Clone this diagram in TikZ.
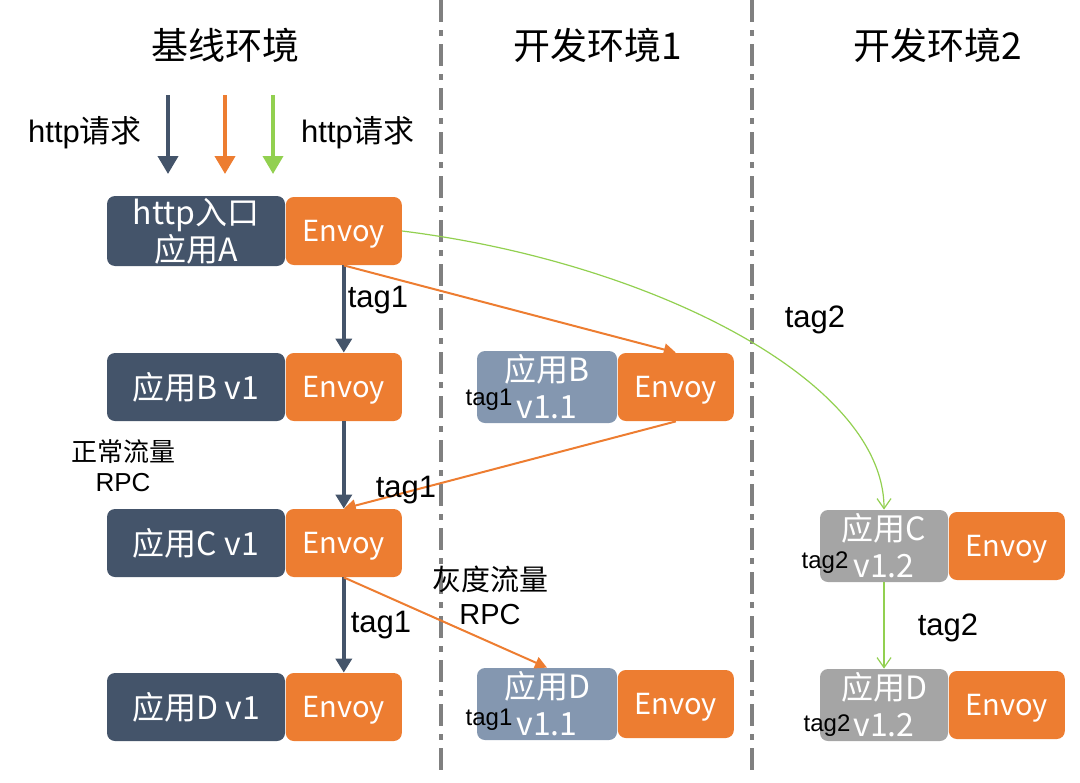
\documentclass[tikz,border=0pt]{standalone}
\usepackage{fontspec}
\setmainfont{Noto Sans CJK SC}
\newfontfamily\arial{Liberation Sans}
\usetikzlibrary{arrows.meta, positioning}
\definecolor{slate}{HTML}{44546A}
\definecolor{envoyorange}{HTML}{ED7D31}
\definecolor{greyblue}{HTML}{8497B0}
\definecolor{boxgrey}{HTML}{A5A5A5}
\definecolor{sepgrey}{HTML}{808080}
\definecolor{tagtwo}{HTML}{92D050}

\begin{document}
\begin{tikzpicture}[
    x=0.5pt, y=-0.5pt,
    app/.style={rectangle, rounded corners=4pt, fill=slate, text=white, minimum width=89pt, minimum height=34pt, align=center, inner sep=1pt, font=\fontsize{16}{18.5}\selectfont},
    devapp/.style={app, fill=greyblue, minimum width=70pt, minimum height=36pt},
    greyapp/.style={app, fill=boxgrey, minimum width=64pt, minimum height=36pt},
    envoy/.style={rectangle, rounded corners=4pt, fill=envoyorange, text=white, minimum width=58pt, minimum height=34pt, inner sep=1pt, text depth=0pt, font=\fontsize{14.5}{17}\selectfont},
    title/.style={font=\fontsize{18.5}{22}\selectfont},
    label/.style={font=\arial\fontsize{15.5}{18}\selectfont, align=center, inner sep=0pt},
    smalltag/.style={font=\arial\fontsize{12}{14}\selectfont, inner sep=0pt},
    sep/.style={draw=sepgrey, line width=2pt, dash pattern=on 11pt off 4pt on 3pt off 4pt},
    basearrow/.style={-{Triangle[length=7pt, width=8pt]}, draw=slate, line width=2pt},
    greyarrow/.style={-{Triangle[length=6pt, width=6pt]}, draw=envoyorange, line width=1pt},
    tagarrow/.style={-{Straight Barb[length=5pt, width=7pt]}, draw=tagtwo, line width=0.6pt}
]
    \useasboundingbox (0,0) rectangle (1080,782);

    \draw[sep] (441,0) -- (441,775);
    \draw[sep] (752,0) -- (752,775);

    \node[title] (t1) at (225,45) {基线环境};
    \node[title] (t2) at (598,45) {开发环境1};
    \node[title] (t3) at (938,45) {开发环境2};

    \node[label, font=\fontsize{15.5}{18}\selectfont] (req1) at (85,133) {{\arial http}请求};
    \node[label, font=\fontsize{15.5}{18}\selectfont] (req2) at (358,133) {{\arial http}请求};

    \coordinate (in1) at (168,95);  \coordinate (out1) at (168,174);
    \coordinate (in2) at (225,95);  \coordinate (out2) at (225,174);
    \coordinate (in3) at (273,95);  \coordinate (out3) at (273,174);
    \draw[basearrow, -{Triangle[length=9pt, width=10pt]}] (in1) -- (out1);
    \draw[basearrow, draw=envoyorange, -{Triangle[length=9pt, width=10pt]}] (in2) -- (out2);
    \draw[basearrow, draw=tagtwo, line width=1.8pt, -{Triangle[length=9pt, width=10pt]}] (in3) -- (out3);

    \node[app] (appA) at (196,231) {http入口\\应用A};
    \node[envoy, right=0pt of appA] (envA) {Envoy};
    \node[app] (appB) at (196,387) {应用B v1};
    \node[envoy, right=0pt of appB] (envB) {Envoy};
    \node[app] (appC) at (196,543) {应用C v1};
    \node[envoy, right=0pt of appC] (envC) {Envoy};
    \node[app] (appD) at (196,707) {应用D v1};
    \node[envoy, right=0pt of appD] (envD) {Envoy};

    \node[devapp] (devB) at (547,387) {应用B\\v1.1};
    \node[envoy, right=0pt of devB] (devenvB) {Envoy};
    \node[devapp] (devD) at (547,704) {应用D\\v1.1};
    \node[envoy, right=0pt of devD] (devenvD) {Envoy};

    \node[greyapp] (grayC) at (884,546) {应用C\\v1.2};
    \node[envoy, right=0pt of grayC] (grayenvC) {Envoy};
    \node[greyapp] (grayD) at (884,705) {应用D\\v1.2};
    \node[envoy, right=0pt of grayD] (grayenvD) {Envoy};

    \node[smalltag] (tagB) at (489,400) {tag1};
    \node[smalltag] (tagD) at (489,720) {tag1};
    \node[smalltag] (tagC2) at (825,563) {tag2};
    \node[smalltag] (tagD2) at (827,726) {tag2};

    \draw[basearrow] (envA) -- (envB);
    \draw[basearrow] (envB) -- (envC);
    \draw[basearrow] (envC) -- (envD);

    \draw[greyarrow] (envA.south) -- (devenvB.north);
    \draw[greyarrow] (devenvB.south) -- (envC.north);
    \draw[greyarrow] (envC.south) -- (devD.north);

    \draw[tagarrow] (envA.east) .. controls (650,262) and (884,380) .. (grayC.north);
    \draw[tagarrow] (grayC) -- (grayD);

    \node[label] (l1) at (378,300) {tag1};
    \node[label] (l2) at (406,490) {tag1};
    \node[label] (l3) at (381,625) {tag1};
    \node[label] (l4) at (815,320) {tag2};
    \node[label] (l5) at (948,628) {tag2};
    \node[label, font=\fontsize{13}{15}\selectfont] (normal) at (123,466) {正常流量\\{\arial RPC}};
    \node[label, font=\fontsize{14.5}{17}\selectfont] (gray) at (490,595) {灰度流量\\{\arial RPC}};
\end{tikzpicture}
\end{document}
